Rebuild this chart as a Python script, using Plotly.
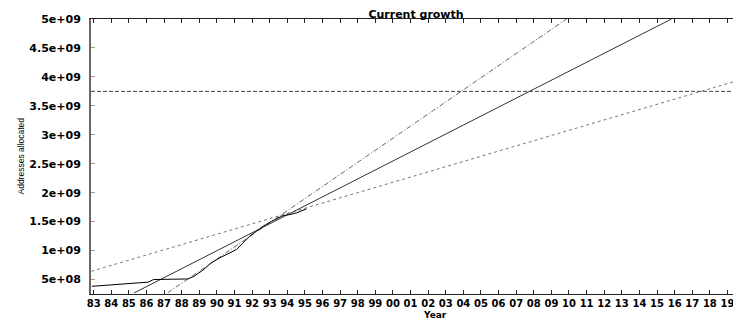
import plotly.graph_objects as go

# ---- data (decimal years, addresses) ----
data_years = [1982.9, 1984.5, 1986.1, 1986.4, 1988.35, 1988.7, 1989.2, 1989.69, 1990.16, 1990.73,
              1991.11, 1991.48, 1991.86, 1992.24, 1992.62, 1993.1, 1993.47, 1993.76, 1994.14,
              1994.52, 1995.09]
data_vals = [3.83e8, 4.2e8, 4.55e8, 5.0e8, 5.1e8, 5.55e8, 6.6e8, 7.9e8, 8.74e8, 9.6e8,
             1.017e9, 1.133e9, 1.247e9, 1.333e9, 1.42e9, 1.506e9, 1.565e9, 1.604e9, 1.622e9,
             1.651e9, 1.72e9]

fit_mid_years = [1985.3, 2015.82]
fit_mid_vals = [2.69e8, 5.0e9]
fit_steep_years = [1987.2, 2009.86]
fit_steep_vals = [2.69e8, 5.0e9]
fit_shallow_years = [1982.87, 2019.76]
fit_shallow_vals = [6.43e8, 3.953e9]
limit_years = [1982.85, 2019.77]
limit_vals = [3.75e9, 3.75e9]

x_tickvals = list(range(1983, 2020))
x_ticktext = ["%02d" % (y % 100) for y in x_tickvals]
y_tickvals = [5e8, 1e9, 1.5e9, 2e9, 2.5e9, 3e9, 3.5e9, 4e9, 4.5e9, 5e9]
y_ticktext = ["5e+08", "1e+09", "1.5e+09", "2e+09", "2.5e+09", "3e+09",
              "3.5e+09", "4e+09", "4.5e+09", "5e+09"]

FONT = "DejaVu Sans"
# the page body has an 8px margin, so the figure is sized to fill the rest
W, H = 733, 312

fig = go.Figure()
fig.add_trace(go.Scatter(x=limit_years, y=limit_vals, mode="lines",
                         line=dict(color="#444444", width=1, dash="4px,2px")))
fig.add_trace(go.Scatter(x=fit_shallow_years, y=fit_shallow_vals, mode="lines",
                         line=dict(color="#777777", width=1, dash="3px,3px")))
fig.add_trace(go.Scatter(x=fit_steep_years, y=fit_steep_vals, mode="lines",
                         line=dict(color="#666666", width=1, dash="5px,2px,1px,2px")))
fig.add_trace(go.Scatter(x=fit_mid_years, y=fit_mid_vals, mode="lines",
                         line=dict(color="#333333", width=1)))
fig.add_trace(go.Scatter(x=data_years, y=data_vals, mode="lines",
                         line=dict(color="#000000", width=1)))

fig.update_layout(
    width=W, height=H,
    margin=dict(l=83, r=0, t=11, b=26, pad=0),
    paper_bgcolor="white", plot_bgcolor="white",
    showlegend=False,
    title=dict(text="Current growth", x=0.5, xref="paper", xanchor="center",
               y=1 - 2 / H, yref="container", yanchor="top", pad=dict(t=0, b=0),
               font=dict(family=FONT, size=11, color="black", weight="bold")),
    xaxis=dict(range=[1982.85, 2019.77], tickmode="array", tickvals=x_tickvals,
               ticktext=x_ticktext, ticks="inside", ticklen=4, tickcolor="#222222",
               showline=True, linecolor="#222222", linewidth=1, mirror="ticks",
               showgrid=False, zeroline=False, ticklabelstandoff=0,
               tickfont=dict(family=FONT, size=10, color="black", weight="bold")),
    yaxis=dict(range=[2.5e8, 5e9], tickmode="array", tickvals=y_tickvals,
               ticktext=y_ticktext, ticks="inside", ticklen=4, tickcolor="#999999",
               showline=True, linecolor="#666666", linewidth=2, mirror=False,
               showgrid=False, zeroline=False, ticklabelstandoff=6,
               tickfont=dict(family=FONT, size=11, color="black", weight="bold")),
    annotations=[
        dict(text="Addresses allocated", xref="paper", yref="paper",
             x=(12 - 83) / 650, y=0.5, xanchor="center", yanchor="middle", textangle=-90,
             showarrow=False,
             font=dict(family="Liberation Sans", size=8.5, color="black")),
        dict(text="Year", xref="paper", yref="paper",
             x=(427 - 83) / 650, y=-(306.5 - 286) / 275, xanchor="center", yanchor="middle",
             showarrow=False,
             font=dict(family=FONT, size=9, color="black", weight="bold")),
    ],
)

fig.write_html("out.html")
